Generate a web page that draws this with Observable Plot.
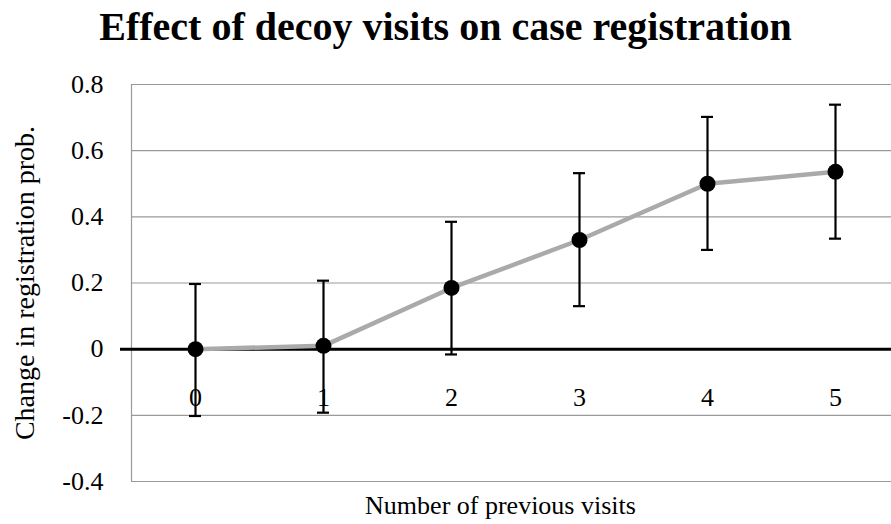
<!DOCTYPE html>
<html><head><meta charset="utf-8">
<script src="https://cdn.jsdelivr.net/npm/d3@7"></script>
<script src="https://cdn.jsdelivr.net/npm/@observablehq/plot@0.6"></script>
<style>
html,body{margin:0;padding:0;background:#fff;overflow:hidden;width:891px;height:524px}
#title{height:60px;line-height:54px;text-align:center;font-family:"Liberation Serif",serif;font-weight:bold;font-size:40px;color:#000;width:891px;white-space:nowrap;overflow:hidden}
#chart{height:464px}
#chart svg{max-width:none !important;display:block}
</style></head>
<body>
<div id="title">Effect of decoy visits on case registration</div>
<div id="chart"></div>
<script>
const visits = [0, 1, 2, 3, 4, 5];
const effect = [0.0, 0.01, 0.185, 0.33, 0.50, 0.536];
const upper  = [0.197, 0.207, 0.385, 0.532, 0.702, 0.739];
const lower  = [-0.202, -0.192, -0.016, 0.13, 0.30, 0.334];
const yTicks = [-0.4, -0.2, 0, 0.2, 0.4, 0.6, 0.8];
const yTickLabels = ["-0.4", "-0.2", "0", "0.2", "0.4", "0.6", "0.8"];
const xLabel = "Number of previous visits";
const yLabel = "Change in registration prob.";

const data = visits.map((v, i) => ({v, m: effect[i], hi: upper[i], lo: lower[i]}));
const font = "Liberation Serif, serif";
const fmt = (d) => yTickLabels[yTicks.indexOf(d)];

const chart = Plot.plot({
  width: 900, height: 464,
  marginLeft: 131, marginRight: 1, marginTop: 24, marginBottom: 43,
  style: {fontFamily: font, fontSize: "26px", color: "#000", overflow: "visible", maxWidth: "none"},
  x: {domain: [-0.5, 5.5], axis: null},
  y: {domain: [-0.4, 0.8], ticks: yTicks, tickFormat: fmt},
  marks: [
    Plot.gridY(yTicks, {stroke: "#9a9a9a", strokeOpacity: 1, strokeWidth: 1.2}),
    Plot.ruleX([-0.5], {stroke: "#9a9a9a", strokeWidth: 1.2}),
    Plot.axisY(yTicks, {tickSize: 0, tickPadding: 28, fontSize: 26, tickFormat: fmt,
      label: null}),
    Plot.axisY(yTicks, {tickSize: 0, tickFormat: () => "", fontSize: 28,
      label: yLabel, labelAnchor: "center", labelArrow: "none", labelOffset: 117}),
    Plot.ruleY([0], {stroke: "#000", strokeWidth: 3, insetLeft: -11}),
    Plot.text(visits, {x: d => d, y: () => 0, dy: 49, text: d => String(d), fontSize: 26, fill: "#000"}),
    Plot.line(data, {x: "v", y: "m", stroke: "#aaaaaa", strokeWidth: 4.5}),
    Plot.ruleX(data, {x: "v", y1: "lo", y2: "hi", stroke: "#000", strokeWidth: 2.2}),
    Plot.ruleY(data, {y: "hi", x1: "v", x2: "v", insetLeft: -6, insetRight: -6, stroke: "#000", strokeWidth: 2.2}),
    Plot.ruleY(data, {y: "lo", x1: "v", x2: "v", insetLeft: -6, insetRight: -6, stroke: "#000", strokeWidth: 2.2}),
    Plot.dot(data, {x: "v", y: "m", r: 8, fill: "#000", stroke: "none"}),
    Plot.text([xLabel], {x: () => 2.5, frameAnchor: "bottom", lineAnchor: "bottom", dy: 32, dx: -15, text: d => d, fontSize: 26, fill: "#000"})
  ]
});
document.getElementById("chart").appendChild(chart);
</script>
</body></html>
